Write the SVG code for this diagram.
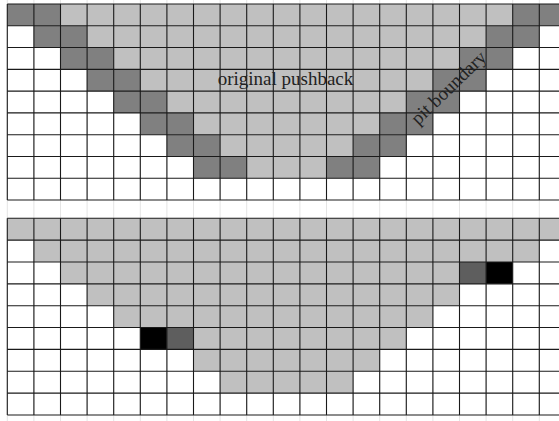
<svg xmlns="http://www.w3.org/2000/svg" width="559" height="421" viewBox="0 0 559 421">
<style>
.l{fill:#c0c0c0}.d{fill:#808080}.d2{fill:#5e5e5e}.k{fill:#000}
.g line{stroke:#1a1a1a;stroke-width:1.1;vector-effect:non-scaling-stroke}
.f line{stroke:#e4e4e4;stroke-width:1}
.t{font-family:"Liberation Serif","Times New Roman",serif;font-size:19px;fill:#222}
</style>
<rect width="559" height="421" fill="#fff"/>
<g class="f" id="faint">
<line x1="7.3" y1="0" x2="7.3" y2="421"/><line x1="33.9" y1="0" x2="33.9" y2="421"/><line x1="60.5" y1="0" x2="60.5" y2="421"/><line x1="87.1" y1="0" x2="87.1" y2="421"/><line x1="113.7" y1="0" x2="113.7" y2="421"/><line x1="140.3" y1="0" x2="140.3" y2="421"/><line x1="166.9" y1="0" x2="166.9" y2="421"/><line x1="193.5" y1="0" x2="193.5" y2="421"/><line x1="220.1" y1="0" x2="220.1" y2="421"/><line x1="246.7" y1="0" x2="246.7" y2="421"/><line x1="273.3" y1="0" x2="273.3" y2="421"/><line x1="299.9" y1="0" x2="299.9" y2="421"/><line x1="326.5" y1="0" x2="326.5" y2="421"/><line x1="353.1" y1="0" x2="353.1" y2="421"/><line x1="379.7" y1="0" x2="379.7" y2="421"/><line x1="406.3" y1="0" x2="406.3" y2="421"/><line x1="432.9" y1="0" x2="432.9" y2="421"/><line x1="459.5" y1="0" x2="459.5" y2="421"/><line x1="486.1" y1="0" x2="486.1" y2="421"/><line x1="512.7" y1="0" x2="512.7" y2="421"/><line x1="539.3" y1="0" x2="539.3" y2="421"/>
</g>
<g id="top-grid" transform="translate(7.3,4) scale(26.6,21.78)">
<g id="top-fill">
<rect class="l" x="2" y="0" width="17" height="1"/>
<rect class="l" x="3" y="1" width="15" height="1"/>
<rect class="l" x="4" y="2" width="13" height="1"/>
<rect class="l" x="5" y="3" width="11" height="1"/>
<rect class="l" x="6" y="4" width="9" height="1"/>
<rect class="l" x="7" y="5" width="7" height="1"/>
<rect class="l" x="8" y="6" width="5" height="1"/>
<rect class="l" x="9" y="7" width="3" height="1"/>
<rect class="d" x="0" y="0" width="2" height="1"/><rect class="d" x="19" y="0" width="2" height="1"/>
<rect class="d" x="1" y="1" width="2" height="1"/><rect class="d" x="18" y="1" width="2" height="1"/>
<rect class="d" x="2" y="2" width="2" height="1"/><rect class="d" x="17" y="2" width="2" height="1"/>
<rect class="d" x="3" y="3" width="2" height="1"/><rect class="d" x="16" y="3" width="2" height="1"/>
<rect class="d" x="4" y="4" width="2" height="1"/><rect class="d" x="15" y="4" width="2" height="1"/>
<rect class="d" x="5" y="5" width="2" height="1"/><rect class="d" x="14" y="5" width="2" height="1"/>
<rect class="d" x="6" y="6" width="2" height="1"/><rect class="d" x="13" y="6" width="2" height="1"/>
<rect class="d" x="7" y="7" width="2" height="1"/><rect class="d" x="12" y="7" width="2" height="1"/>
</g>
<g class="g" id="top-lines">
<line x1="0" y1="0" x2="0" y2="9"/><line x1="1" y1="0" x2="1" y2="9"/><line x1="2" y1="0" x2="2" y2="9"/><line x1="3" y1="0" x2="3" y2="9"/><line x1="4" y1="0" x2="4" y2="9"/><line x1="5" y1="0" x2="5" y2="9"/><line x1="6" y1="0" x2="6" y2="9"/><line x1="7" y1="0" x2="7" y2="9"/><line x1="8" y1="0" x2="8" y2="9"/><line x1="9" y1="0" x2="9" y2="9"/><line x1="10" y1="0" x2="10" y2="9"/><line x1="11" y1="0" x2="11" y2="9"/><line x1="12" y1="0" x2="12" y2="9"/><line x1="13" y1="0" x2="13" y2="9"/><line x1="14" y1="0" x2="14" y2="9"/><line x1="15" y1="0" x2="15" y2="9"/><line x1="16" y1="0" x2="16" y2="9"/><line x1="17" y1="0" x2="17" y2="9"/><line x1="18" y1="0" x2="18" y2="9"/><line x1="19" y1="0" x2="19" y2="9"/><line x1="20" y1="0" x2="20" y2="9"/>
<line x1="0" y1="0" x2="21" y2="0"/><line x1="0" y1="1" x2="21" y2="1"/><line x1="0" y1="2" x2="21" y2="2"/><line x1="0" y1="3" x2="21" y2="3"/><line x1="0" y1="4" x2="21" y2="4"/><line x1="0" y1="5" x2="21" y2="5"/><line x1="0" y1="6" x2="21" y2="6"/><line x1="0" y1="7" x2="21" y2="7"/><line x1="0" y1="8" x2="21" y2="8"/><line x1="0" y1="9" x2="21" y2="9"/>
</g>
</g>
<g id="bottom-grid" transform="translate(7.3,218.3) scale(26.6,21.85)">
<g id="bottom-fill">
<rect class="l" x="0" y="0" width="21" height="1"/>
<rect class="l" x="1" y="1" width="19" height="1"/>
<rect class="l" x="2" y="2" width="15" height="1"/>
<rect class="l" x="3" y="3" width="14" height="1"/>
<rect class="l" x="4" y="4" width="12" height="1"/>
<rect class="l" x="7" y="5" width="8" height="1"/>
<rect class="l" x="7" y="6" width="7" height="1"/>
<rect class="l" x="8" y="7" width="5" height="1"/>
<rect class="d2" x="17" y="2" width="1" height="1"/><rect class="k" x="18" y="2" width="1" height="1"/>
<rect class="k" x="5" y="5" width="1" height="1"/><rect class="d2" x="6" y="5" width="1" height="1"/>
</g>
<g class="g" id="bottom-lines">
<line x1="0" y1="0" x2="0" y2="9"/><line x1="1" y1="0" x2="1" y2="9"/><line x1="2" y1="0" x2="2" y2="9"/><line x1="3" y1="0" x2="3" y2="9"/><line x1="4" y1="0" x2="4" y2="9"/><line x1="5" y1="0" x2="5" y2="9"/><line x1="6" y1="0" x2="6" y2="9"/><line x1="7" y1="0" x2="7" y2="9"/><line x1="8" y1="0" x2="8" y2="9"/><line x1="9" y1="0" x2="9" y2="9"/><line x1="10" y1="0" x2="10" y2="9"/><line x1="11" y1="0" x2="11" y2="9"/><line x1="12" y1="0" x2="12" y2="9"/><line x1="13" y1="0" x2="13" y2="9"/><line x1="14" y1="0" x2="14" y2="9"/><line x1="15" y1="0" x2="15" y2="9"/><line x1="16" y1="0" x2="16" y2="9"/><line x1="17" y1="0" x2="17" y2="9"/><line x1="18" y1="0" x2="18" y2="9"/><line x1="19" y1="0" x2="19" y2="9"/><line x1="20" y1="0" x2="20" y2="9"/>
<line x1="0" y1="0" x2="21" y2="0"/><line x1="0" y1="1" x2="21" y2="1"/><line x1="0" y1="2" x2="21" y2="2"/><line x1="0" y1="3" x2="21" y2="3"/><line x1="0" y1="4" x2="21" y2="4"/><line x1="0" y1="5" x2="21" y2="5"/><line x1="0" y1="6" x2="21" y2="6"/><line x1="0" y1="7" x2="21" y2="7"/><line x1="0" y1="8" x2="21" y2="8"/><line x1="0" y1="9" x2="21" y2="9"/>
</g>
</g>
<g id="labels">
<text class="t" x="285.5" y="85" text-anchor="middle">original pushback</text>
<text class="t" transform="translate(449.5,88.5) rotate(-44)" x="0" y="5" text-anchor="middle">pit boundary</text>
</g>
</svg>
